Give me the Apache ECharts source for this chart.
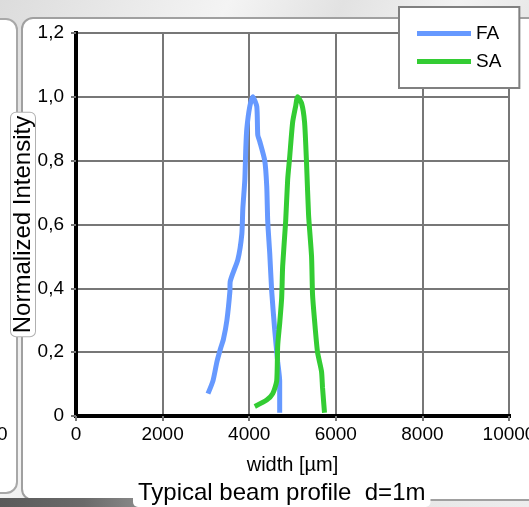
<!DOCTYPE html>
<html>
<head>
<meta charset="utf-8">
<script src="https://cdn.jsdelivr.net/npm/echarts@6/dist/echarts.min.js"></script>
<style>
html,body{margin:0;padding:0;width:529px;height:507px;overflow:hidden;}
body{background:linear-gradient(115deg,#dcdcdc 0%,#ececec 20%,#f4f4f4 30%,#e2e2e2 45%,#f2f2f2 60%,#e4e4e4 75%,#ededed 100%);position:relative;font-family:"Liberation Sans",Arial,sans-serif;}
#leftPanel{position:absolute;left:-30px;top:18px;width:44px;height:472px;background:#fff;border:2px solid #a8a8a8;border-radius:0 12px 12px 0;}
#mainPanel{position:absolute;left:21px;top:17px;width:540px;height:480px;background:#fff;border:2px solid #a0a0a0;border-radius:12px 0 0 12px;}
#bottomDark{position:absolute;left:0;top:498px;width:140px;height:9px;background:linear-gradient(90deg,#5a5a5a,#6a6a6a 60%,#8a8a8a);}
#chart{position:absolute;left:0;top:0;width:529px;height:507px;}
</style>
</head>
<body>
<div id="leftPanel"></div>
<div id="mainPanel"></div>
<div id="bottomDark"></div>
<div id="chart"></div>
<script>
// FA series: [width µm, normalized intensity]
const faData = [
  [3048,0.07],[3163,0.11],[3255,0.17],[3335,0.21],[3404,0.24],[3485,0.30],
  [3554,0.39],[3560,0.42],[3738,0.49],[3830,0.57],[3853,0.65],[3899,0.74],
  [3922,0.84],[3945,0.90],[4014,0.97],[4083,1.0],[4175,0.97],[4198,0.88],
  [4244,0.86],[4359,0.80],[4405,0.72],[4428,0.61],[4474,0.51],[4520,0.39],
  [4589,0.27],[4658,0.17],[4704,0.11],[4704,0.01]
];
// SA series
const saData = [
  [4129,0.03],[4404,0.05],[4543,0.07],[4635,0.11],[4658,0.22],[4704,0.29],
  [4750,0.37],[4773,0.47],[4842,0.61],[4888,0.74],[4934,0.81],[5003,0.92],
  [5072,0.97],[5118,1.0],[5210,0.98],[5279,0.92],[5325,0.79],[5371,0.63],
  [5440,0.50],[5463,0.38],[5509,0.30],[5578,0.20],[5670,0.14],[5693,0.09],
  [5739,0.01]
];
const seriesNames = ['FA','SA'];
const seriesColors = ['#6699ff','#33cc33'];
const xMin = 0, xMax = 10000, xStep = 2000;
const yMin = 0, yMax = 1.2, yStep = 0.2;
const xName = 'width [µm]';
const yName = 'Normalized Intensity';
const titleText = 'Typical beam profile  d=1m';

const chart = echarts.init(document.getElementById('chart'), null, {renderer:'canvas'});
const font = 'Liberation Sans, Arial, sans-serif';
chart.setOption({
  backgroundColor: 'transparent',
  animation: false,
  textStyle: {fontFamily: font},
  title: {
    text: titleText,
    left: 133, top: 480,
    padding: [1,5,2,5],
    backgroundColor: '#fff',
    borderRadius: 5,
    textStyle: {fontSize: 24, fontWeight: 'normal', color: '#000', fontFamily: font}
  },
  legend: {
    data: seriesNames,
    orient: 'vertical',
    left: 399, top: 7,
    padding: [17,18,17,18],
    itemGap: 9,
    itemWidth: 54, itemHeight: 5,
    icon: 'rect',
    backgroundColor: '#fff',
    borderColor: '#808080', borderWidth: 2,
    textStyle: {fontSize: 19, color: '#000', fontFamily: font}
  },
  grid: {left: 76, right: 20, top: 33, bottom: 91, containLabel: false, outerBoundsMode: 'none'},
  xAxis: {
    type: 'value', min: xMin, max: xMax, interval: xStep,
    name: xName, nameLocation: 'middle', nameGap: 39,
    nameTextStyle: {fontSize: 20, color: '#000', fontFamily: font},
    axisLine: {show: true, onZero: false, lineStyle: {color: '#000', width: 4, cap: 'square'}},
    axisTick: {show: true, length: 5, lineStyle: {color: '#777', width: 2}},
    axisLabel: {fontSize: 19, color: '#000', margin: 9, fontFamily: font,
      hideOverlap: false, formatter: v => String(v)},
    splitLine: {show: true, lineStyle: {color: '#777', width: 2}}
  },
  yAxis: {
    type: 'value', min: yMin, max: yMax, interval: yStep,
    name: yName, nameLocation: 'middle', nameGap: 41, nameRotate: 90,
    nameMoveOverlap: false,
    nameTextStyle: {fontSize: 24, color: '#000', fontFamily: font,
      backgroundColor: '#fff', borderColor: '#b0b0b0', borderWidth: 1, borderRadius: 5, padding: [0,3,0,3]},
    axisLine: {show: true, onZero: false, lineStyle: {color: '#000', width: 4, cap: 'square'}},
    axisTick: {show: true, length: 5, lineStyle: {color: '#777', width: 2}},
    axisLabel: {fontSize: 19, color: '#000', margin: 12, fontFamily: font,
      formatter: v => v === 0 ? '0' : v.toFixed(1).replace('.', ',')},
    splitLine: {show: true, lineStyle: {color: '#777', width: 2}}
  },
  graphic: [
    {type: 'text', left: -3, top: 425, z: 10,
     style: {text: '0', fontSize: 19, fill: '#000', font: '19px Liberation Sans, Arial, sans-serif'}}
  ],
  series: [
    {name: seriesNames[0], type: 'line', data: faData, smooth: 0.2, showSymbol: false,
     lineStyle: {color: seriesColors[0], width: 5}, itemStyle: {color: seriesColors[0]}},
    {name: seriesNames[1], type: 'line', data: saData, smooth: 0.2, showSymbol: false,
     lineStyle: {color: seriesColors[1], width: 5}, itemStyle: {color: seriesColors[1]}}
  ]
});
</script>
</body>
</html>
